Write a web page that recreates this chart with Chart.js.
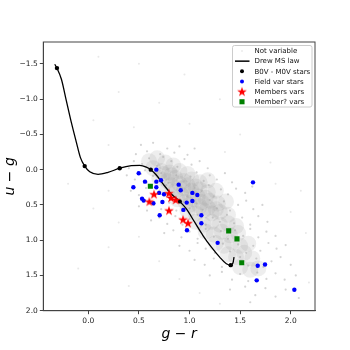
<!doctype html>
<html lang="en">
<head>
<meta charset="utf-8">
<title>u-g vs g-r</title>
<script src="https://cdn.jsdelivr.net/npm/chart.js@4.4.0/dist/chart.umd.min.js"></script>
<style>
  html, body { margin: 0; padding: 0; background: #fff; }
</style>
</head>
<body>
<canvas id="chart" width="350" height="350"></canvas>
<script>
// values, [g-r, u-g]
const msLaw = [[-0.332,-1.494],[-0.31,-1.44],[-0.266,-1.282],[-0.217,-0.975],[-0.168,-0.669],[-0.118,-0.386],
  [-0.079,-0.174],[-0.036,-0.05],[0.014,0.029],[0.096,0.066],[0.195,0.038],[0.31,-0.02],[0.425,-0.056],
  [0.508,-0.061],[0.573,-0.037],[0.617,0.0],[0.672,0.076],[0.738,0.203],[0.82,0.345],[0.903,0.45],
  [0.969,0.557],[1.051,0.745],[1.133,0.934],[1.216,1.099],[1.298,1.24],[1.364,1.335],[1.407,1.354],
  [1.43,1.32],[1.44,1.24]];
const msStars = [[-0.31,-1.44],[-0.036,-0.05],[0.31,-0.02],[0.617,0.0],[0.903,0.45],[1.407,1.354]];
const fieldVars = [[0.498,0.052],[0.672,0.0],[0.445,0.25],[0.56,0.17],[0.672,0.17],[0.718,0.151],[0.672,0.25],
  [0.893,0.213],[0.913,0.293],[0.699,0.33],[0.748,0.349],[0.531,0.411],[0.547,0.439],[0.643,0.477],
  [0.732,0.458],[1.028,0.33],[1.077,0.359],[1.028,0.444],[0.972,0.467],[0.939,0.571],[1.117,0.646],
  [0.705,0.646],[1.117,0.76],[0.975,0.859],[1.278,1.038],[1.627,0.18],[1.674,1.363],[1.746,1.344],
  [1.664,1.57],[2.036,1.703]];
const memberVars = [[0.649,0.349],[0.603,0.453],[0.797,0.335],[0.817,0.401],[0.863,0.43],[0.797,0.58],
  [0.936,0.708],[0.985,0.76]];
const maybeVars = [[0.613,0.236],[1.387,0.868],[1.469,0.981],[1.516,1.321]];
// dense part of the non-variable cloud
const notVarCore = [[0.6,-0.12],[0.68,-0.16],[0.76,-0.1],[0.84,-0.06],[0.64,-0.02],[0.72,0.02],[0.8,0.04],
  [0.9,0.02],[0.98,0.06],[0.7,0.12],[0.78,0.16],[0.86,0.12],[0.94,0.16],[1.02,0.14],[1.1,0.18],[1.18,0.15],
  [0.78,0.28],[0.86,0.3],[0.94,0.26],[1.02,0.3],[1.1,0.28],[1.18,0.32],[1.26,0.3],[0.88,0.42],[0.96,0.46],
  [1.04,0.42],[1.12,0.46],[1.2,0.44],[1.28,0.48],[1.36,0.45],[0.98,0.58],[1.06,0.62],[1.14,0.58],
  [1.22,0.62],[1.3,0.6],[1.38,0.64],[1.06,0.74],[1.14,0.78],[1.22,0.74],[1.3,0.78],[1.38,0.76],[1.46,0.8],
  [1.16,0.88],[1.24,0.92],[1.32,0.88],[1.4,0.93],[1.48,0.9],[1.26,1.04],[1.34,1.08],[1.42,1.03],[1.5,1.08],
  [1.58,1.05],[1.38,1.2],[1.46,1.24],[1.54,1.18],[1.62,1.26],[1.5,1.38],[1.6,1.42],[1.68,1.4],
  [0.82,0.22],[0.9,0.2],[0.98,0.22],[1.06,0.24],[0.92,0.36],[1.0,0.36],[1.08,0.38],[1.16,0.4],
  [1.0,0.5],[1.1,0.52],[1.18,0.54],[1.26,0.56],[0.74,0.06],[0.82,0.08]];
// sparse part of the cloud
const notVar = [[0.52,-0.35],[0.64,-0.38],[0.78,-0.3],[0.9,-0.33],[0.58,-0.26],[0.71,-0.22],[0.85,-0.24],
  [0.98,-0.21],[1.05,-0.3],[0.47,-0.22],[0.45,-0.12],[0.53,-0.08],[0.6,-0.16],[0.68,-0.05],[0.74,-0.18],
  [0.82,-0.12],[0.88,-0.04],[0.95,-0.15],[1.02,-0.07],[1.1,-0.12],[1.18,-0.02],[0.4,-0.02],[0.56,0.01],
  [0.38,0.08],[0.46,0.14],[0.52,0.06],[0.58,0.18],[0.64,0.09],[0.72,0.05],[0.79,0.19],[0.87,0.08],
  [0.94,0.17],[1.01,0.1],[1.07,0.04],[1.14,0.16],[1.2,0.08],[1.27,0.14],[1.35,0.05],[1.42,0.18],
  [0.42,0.3],[0.5,0.36],[0.57,0.26],[0.63,0.38],[0.7,0.3],[0.77,0.22],[0.84,0.36],[0.91,0.24],[0.98,0.38],
  [1.05,0.26],[1.12,0.3],[1.19,0.22],[1.24,0.38],[1.31,0.28],[1.38,0.35],[1.46,0.27],[1.55,0.33],[1.62,0.24],
  [0.5,0.52],[0.58,0.58],[0.65,0.5],[0.72,0.56],[0.8,0.47],[0.87,0.58],[0.94,0.46],[1.0,0.55],[1.07,0.48],
  [1.13,0.57],[1.2,0.43],[1.27,0.55],[1.34,0.45],[1.4,0.58],[1.48,0.5],[1.56,0.44],[1.63,0.56],[1.72,0.5],
  [0.62,0.72],[0.7,0.68],[0.78,0.77],[0.86,0.66],[0.93,0.78],[1.0,0.7],[1.08,0.64],[1.16,0.78],[1.23,0.68],
  [1.3,0.74],[1.37,0.64],[1.44,0.76],[1.52,0.68],[1.6,0.78],[1.68,0.66],[1.77,0.74],
  [0.75,0.9],[0.84,0.86],[0.92,0.96],[1.0,0.88],[1.08,0.98],[1.16,0.84],[1.24,0.95],[1.31,0.87],[1.38,0.98],
  [1.45,0.86],[1.53,0.94],[1.6,0.84],[1.68,0.96],[1.76,0.88],[1.85,0.94],
  [0.9,1.08],[1.0,1.15],[1.08,1.04],[1.16,1.12],[1.25,1.18],[1.33,1.05],[1.4,1.16],[1.48,1.06],[1.56,1.18],
  [1.63,1.08],[1.7,1.15],[1.78,1.04],[1.86,1.12],[1.95,1.07],
  [1.05,1.28],[1.15,1.35],[1.24,1.26],[1.32,1.38],[1.5,1.24],[1.58,1.36],[1.66,1.26],[1.73,1.38],[1.81,1.3],
  [1.9,1.24],[2.0,1.35],[1.2,1.5],[1.32,1.45],[1.42,1.56],[1.5,1.48],[1.58,1.58],[1.67,1.46],[1.76,1.55],
  [1.85,1.47],[1.94,1.56],[2.05,1.5],[1.4,1.7],[1.55,1.66],[1.65,1.78],[1.75,1.68],[1.85,1.8],[1.95,1.7],
  [2.08,1.82],[1.6,1.88]];
// a few isolated points far from the cloud
const notVarFar = [[0.1,-1.6],[0.5,-1.5],[0.95,-1.35],[0.3,-1.1],[0.7,-0.95],[1.3,-1.0],[0.05,-0.7],
  [0.45,-0.6],[1.0,-0.65],[1.5,-0.5],[0.2,-0.35],[1.35,-0.25],[1.8,-0.1],[2.1,0.3],[1.85,0.2],[0.2,0.3],
  [0.05,0.55],[0.3,0.75],[0.5,0.95],[0.2,1.1],[0.7,1.3],[0.9,1.55],[1.1,1.75],[1.3,1.9],[2.15,0.9],
  [2.0,0.6],[-0.2,0.2],[-0.1,1.4],[0.4,1.65],[2.18,1.6]];
const xTicks = [0.0, 0.5, 1.0, 1.5, 2.0];
const yTicks = [-1.5, -1.0, -0.5, 0.0, 0.5, 1.0, 1.5, 2.0];

const pts = a => a.map(p => ({x: p[0], y: p[1]}));

// filled five-point star like matplotlib's '*'
const star = document.createElement('canvas');
star.width = 12; star.height = 12;
(() => {
  const c = star.getContext('2d');
  c.beginPath();
  for (let i = 0; i < 10; i++) {
    const r = i % 2 ? 1.95 : 5.1;
    const a = -Math.PI / 2 + i * Math.PI / 5;
    c.lineTo(6 + r * Math.cos(a), 6.4 + r * Math.sin(a));
  }
  c.closePath();
  c.fillStyle = '#ff0000';
  c.fill();
})();

const fmt = v => (Math.round(v * 10) / 10).toFixed(1).replace('-', '\u2212');

const framePlugin = {
  id: 'frame',
  afterDatasetsDraw(chart) {
    const {ctx, chartArea: a} = chart;
    ctx.save();
    ctx.strokeStyle = '#444';
    ctx.lineWidth = 1;
    ctx.strokeRect(a.left, a.top, a.right - a.left, a.bottom - a.top);
    ctx.restore();
  }
};

const legendPlugin = {
  id: 'boxLegend',
  afterDraw(chart) {
    const ctx = chart.ctx;
    const x0 = 232.5, y0 = 45.5, w = 79.5, h = 61.5, rowH = 10.15;
    ctx.save();
    ctx.fillStyle = 'rgba(255,255,255,0.85)';
    ctx.strokeStyle = '#cccccc';
    ctx.lineWidth = 1;
    ctx.beginPath();
    ctx.roundRect(x0, y0, w, h, 2);
    ctx.fill();
    ctx.stroke();
    ctx.font = '7px "DejaVu Sans"';
    ctx.textBaseline = 'middle';
    let row = 0;
    chart.data.datasets.forEach(ds => {
      if (!ds.label) return;
      const y = 51 + row * rowH, mx = 242;
      if (ds.showLine) {
        ctx.strokeStyle = ds.borderColor;
        ctx.lineWidth = 1.5;
        ctx.beginPath();
        ctx.moveTo(235, y); ctx.lineTo(249.5, y);
        ctx.stroke();
      } else {
        ctx.fillStyle = ds.backgroundColor;
        ctx.strokeStyle = ds.backgroundColor;
        Chart.helpers.drawPoint(ctx, {
          pointStyle: ds.pointStyle, radius: ds.legendRadius, rotation: 0, borderWidth: 0
        }, mx, y);
      }
      ctx.fillStyle = '#111';
      ctx.fillText(ds.label, 254.5, y + 0.5);
      row++;
    });
    ctx.restore();
  }
};

new Chart(document.getElementById('chart'), {
  type: 'scatter',
  data: {
    datasets: [
      { label: 'Not variable', data: pts(notVar), order: 10, pointRadius: 1.1,
        backgroundColor: 'rgba(160,160,160,0.45)', borderWidth: 0, legendRadius: 0.7 },
      { label: '', data: pts(notVarCore), order: 11, pointRadius: 8,
        backgroundColor: 'rgba(150,150,150,0.16)', borderWidth: 0 },
      { label: '', data: pts(notVarFar), order: 12, pointRadius: 1,
        backgroundColor: 'rgba(180,180,180,0.3)', borderWidth: 0 },
      { label: 'Drew MS law', data: pts(msLaw), order: 6, showLine: true, pointRadius: 0,
        borderColor: '#000', borderWidth: 1.3, cubicInterpolationMode: 'monotone' },
      { label: 'B0V - M0V stars', data: pts(msStars), order: 5, pointRadius: 2.2,
        backgroundColor: '#000', borderWidth: 0, legendRadius: 2 },
      { label: 'Field var stars', data: pts(fieldVars), order: 4, pointRadius: 2.2,
        backgroundColor: '#0000ff', borderWidth: 0, legendRadius: 2 },
      { label: 'Members vars', data: pts(memberVars), order: 2, pointStyle: star,
        backgroundColor: '#ff0000', borderWidth: 0, legendRadius: 5 },
      { label: 'Member? vars', data: pts(maybeVars), order: 3, pointStyle: 'rect', pointRadius: 3.6,
        backgroundColor: '#008000', borderWidth: 0, legendRadius: 3.6 }
    ]
  },
  options: {
    responsive: false,
    animation: false,
    events: [],
    layout: { padding: { top: 42, right: 35, left: 0, bottom: 0 } },
    plugins: { legend: { display: false }, tooltip: { enabled: false } },
    scales: {
      x: {
        type: 'linear', min: -0.445, max: 2.24,
        afterBuildTicks: s => { s.ticks = xTicks.map(v => ({value: v})); },
        afterFit: s => { s.height = 39.3; },
        border: { color: '#444' },
        grid: { drawOnChartArea: false, tickLength: 3.5, color: '#444' },
        ticks: { callback: fmt, padding: 2, color: '#222', maxRotation: 0,
          font: { family: 'DejaVu Sans', size: 7.5 } },
        title: { display: true, text: 'g \u2212 r', color: '#000',
          padding: { top: 0, bottom: 7 },
          font: { family: 'DejaVu Sans', size: 14, style: 'italic' } }
      },
      y: {
        type: 'linear', min: -1.81, max: 2.0, reverse: true,
        afterBuildTicks: s => { s.ticks = yTicks.map(v => ({value: v})); },
        afterFit: s => { s.width = 43.3; },
        border: { color: '#444' },
        grid: { drawOnChartArea: false, tickLength: 3.5, color: '#444' },
        ticks: { callback: fmt, padding: 2, color: '#222',
          font: { family: 'DejaVu Sans', size: 7.5 } },
        title: { display: true, text: 'u \u2212 g', color: '#000',
          padding: { top: 2, bottom: 0 },
          font: { family: 'DejaVu Sans', size: 14, style: 'italic' } }
      }
    }
  },
  plugins: [framePlugin, legendPlugin]
});
</script>
</body>
</html>
